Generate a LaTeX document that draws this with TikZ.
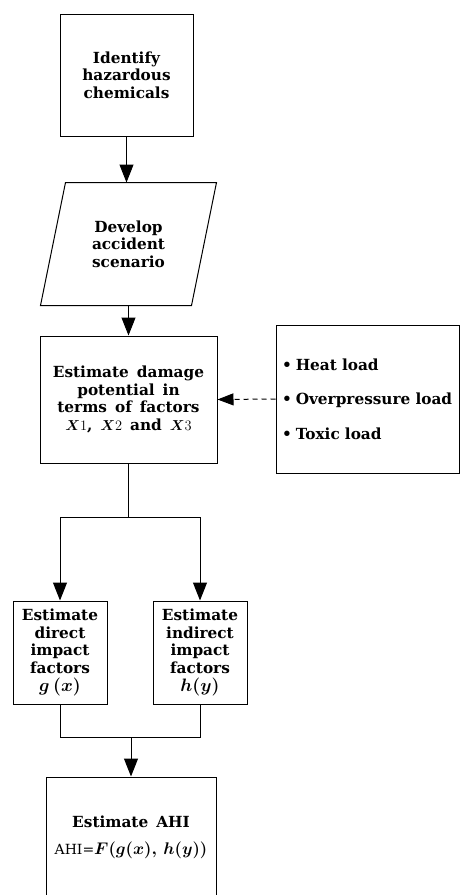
\documentclass[tikz,border=0pt]{standalone}
\usepackage{amsmath}
\usepackage{graphicx}
\usepackage{fontspec}
\setmainfont{DejaVu Serif}[WordSpace=1.5]
\usetikzlibrary{arrows.meta,positioning}

\tikzset{
  box/.style={draw, line width=1pt, align=center, inner sep=2pt,
    font=\bfseries\fontsize{15.3}{17.5}\selectfont},
  flow/.style={line width=1pt, -{Triangle[length=18pt,width=14pt]}},
}
\newcommand{\loaditem}{\textbullet\hspace{4pt}}
\newcommand{\bigmath}[2][1.25]{\scalebox{#1}{$\boldsymbol{#2}$}}

\begin{document}
\begin{tikzpicture}[x=1pt,y=1pt]
            \useasboundingbox (0,0) rectangle (460,-895);
            % main column
            \node[box, minimum width=133, minimum height=122] (ident) at (126.5,-75) {Identify\\hazardous\\chemicals};
            \node[box, draw=none, minimum width=150, minimum height=122] (develop) at (128.5,-244) {Develop\\accident\\scenario};
            \draw[line width=1pt] ([xshift=-12.5]develop.south west) -- ([xshift=-12.5]develop.south east)
                -- ([xshift=12.5]develop.north east) -- ([xshift=12.5]develop.north west) -- cycle;
            \node[box, minimum width=177, minimum height=127] (damage) at (128.5,-399.5) {Estimate damage\\potential in\\terms of factors\\$\boldsymbol{X}1$, $\boldsymbol{X}2$ and $\boldsymbol{X}3$};
            \node[box, align=left, text width=171, inner xsep=6, minimum height=148,
                font=\bfseries\fontsize{15.3}{34.5}\selectfont] (loads) at (367.5,-399)
                {\loaditem Heat load\\\loaditem Overpressure load\\\loaditem Toxic load};
            \node[box, minimum width=94, minimum height=103] (direct) at (60,-652.5) {Estimate\\direct\\impact\\factors\\[1pt]\bigmath{g\,(x)}};
            \node[box, minimum width=94, minimum height=103] (indirect) at (200,-652.5) {Estimate\\indirect\\impact\\factors\\[1pt]\bigmath{h(y)}};
            \node[box, minimum width=170, minimum height=125] (ahi) at (131,-839.5) {Estimate AHI\\[9pt]{\mdseries\fontsize{14}{17.5}\selectfont AHI=}\bigmath[1.17]{F(g(x),\,h(y))}\\[-9pt]\mbox{}};
            % connectors
            \draw[flow] (ident.south) -- (ident.south |- develop.north);
            \draw[flow] (develop.south) -- (damage.north);
            \draw[line width=1pt, dash pattern=on 5pt off 4pt, -{Triangle[length=16pt,width=12pt]}] (loads.west) -- (damage.east);
            \coordinate (split) at (damage.south |- 0,-517);
            \draw[flow] (damage.south) -- (split) -| (direct.north);
            \draw[flow] (split) -| (indirect.north);
            \coordinate (merge) at (ahi.north |- 0,-737);
            \draw[line width=1pt] (direct.south) |- (merge) -| (indirect.south);
            \draw[flow] (merge) -- (ahi.north);
        \end{tikzpicture}
\end{document}
